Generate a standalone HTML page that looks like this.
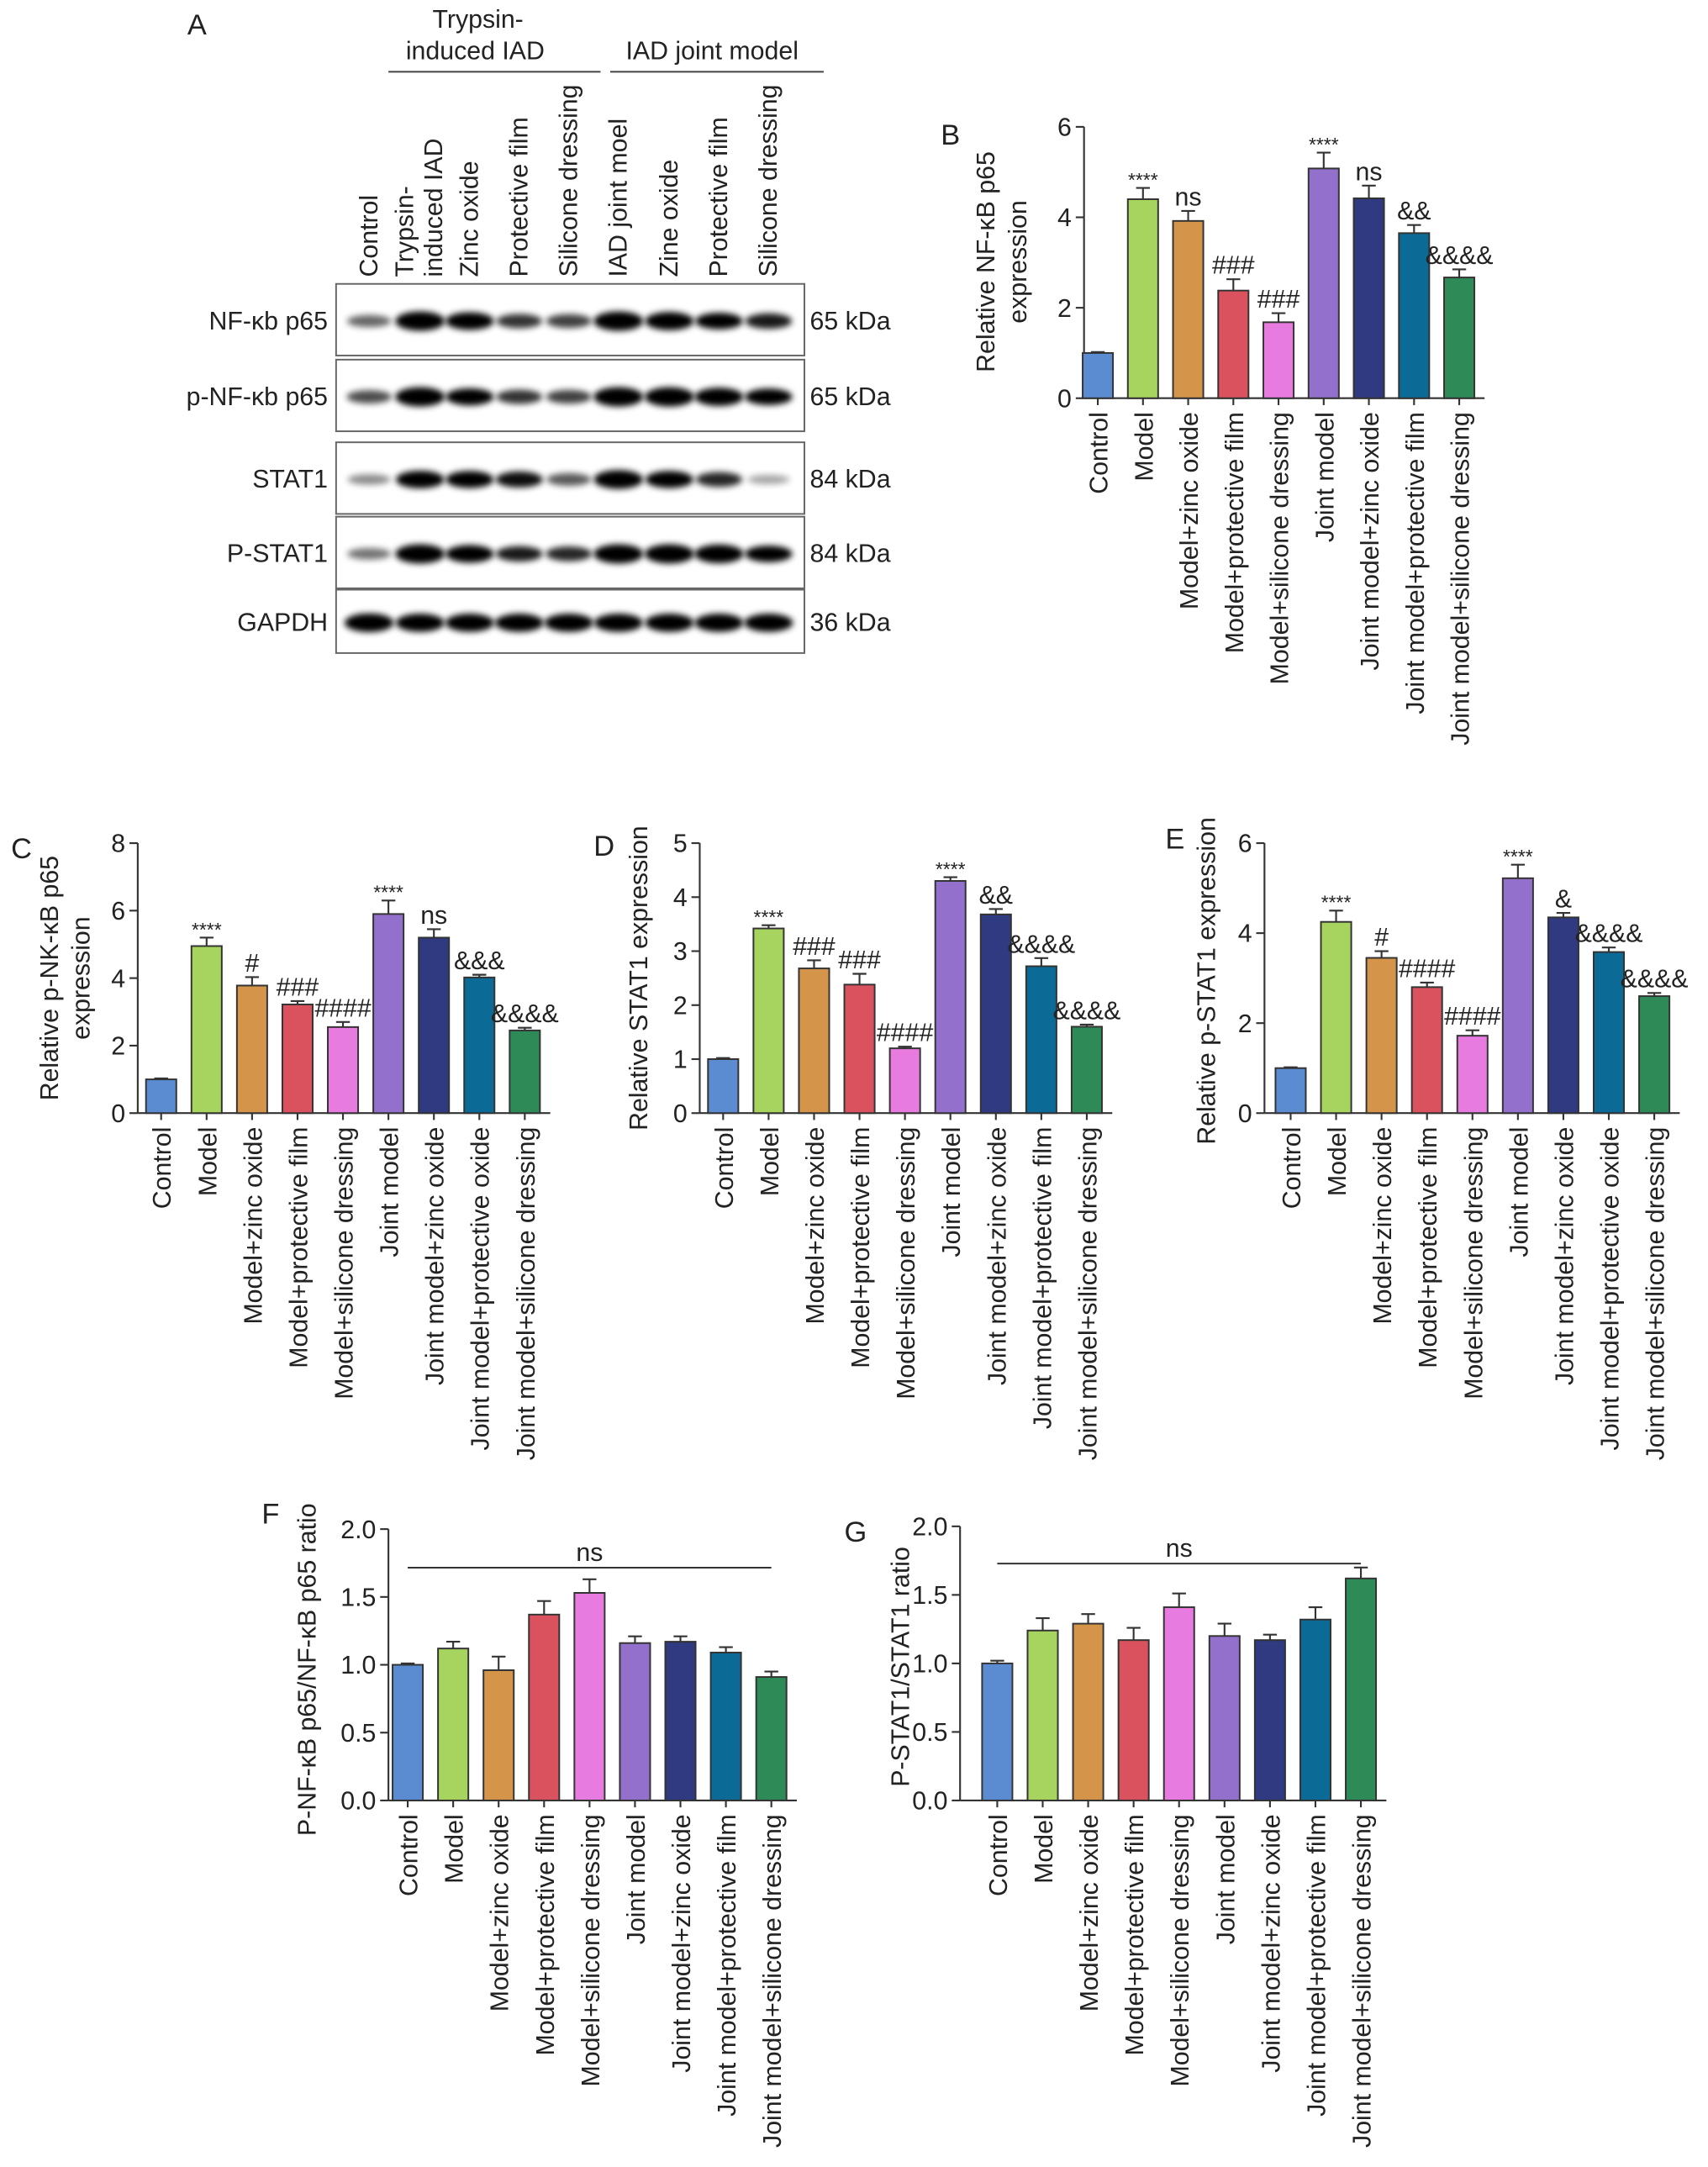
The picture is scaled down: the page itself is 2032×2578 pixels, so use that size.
<!DOCTYPE html>
<html><head><meta charset="utf-8"><style>
html,body{margin:0;padding:0;background:#fff}
svg{display:block}
text{font-family:"Liberation Sans",Arial,sans-serif;fill:#222}
</style></head><body>
<svg id="fig" width="2032" height="2578" viewBox="0 0 1240 1573" xmlns="http://www.w3.org/2000/svg">
<defs><filter id="blur" x="-50%" y="-50%" width="200%" height="200%"><feGaussianBlur stdDeviation="2.2"/></filter></defs>
<g id="blot"></g>
<g id="charts"></g>
</svg>
<script>
const NS='http://www.w3.org/2000/svg';
function mk(tag,attrs,parent,txt){const e=document.createElementNS(NS,tag);for(const k in attrs)e.setAttribute(k,attrs[k]);if(txt!==undefined)e.textContent=txt;parent.appendChild(e);return e;}
const FS=18.5;

// ---------- Panel A data ----------
const blotRows=['NF-κb p65','p-NF-κb p65','STAT1','P-STAT1','GAPDH'];
const blotKda=['65 kDa','65 kDa','84 kDa','84 kDa','36 kDa'];
const bandNF=[0.35,1,0.85,0.55,0.5,1,0.9,0.75,0.65];
const bandPNF=[0.45,1,0.8,0.55,0.5,1,1,0.9,0.75];
const bandSTAT=[0.2,0.85,0.8,0.7,0.4,0.95,0.8,0.6,0.1];
const bandPSTAT=[0.3,1,0.85,0.65,0.6,1,1,0.95,0.75];
const bandGAPDH=[0.95,0.9,0.9,0.9,0.9,0.9,0.9,0.9,0.9];
const laneLabels=['Control','Trypsin-|induced IAD','Zinc oxide','Protective film','Silicone dressing','IAD joint moel','Zine oxide','Protective film','Silicone dressing'];

const A=document.getElementById('blot');
let t=mk('text',{x:136,y:25,'font-size':21},A,'A');

mk('text',{x:347,y:20,'font-size':FS,'text-anchor':'middle'},A,'Trypsin-');
mk('text',{x:345,y:43,'font-size':FS,'text-anchor':'middle'},A,'induced IAD');
mk('text',{x:517,y:43,'font-size':FS,'text-anchor':'middle'},A,'IAD joint model');
mk('line',{x1:282,x2:436,y1:52,y2:52,stroke:'#444','stroke-width':1.2},A);
mk('line',{x1:443,x2:598,y1:52,y2:52,stroke:'#444','stroke-width':1.2},A);
const laneX=[268,305,341,377,413,449,486,522,558];
laneLabels.forEach((l,i)=>{
  const parts=l.split('|');
  parts.forEach((p,j)=>{
    const x=laneX[i]+6-(parts.length-1-j)*21+(parts.length>1?10:0);
    const e=mk('text',{x:0,y:0,'font-size':FS,'text-anchor':'start',transform:`translate(${x},201) rotate(-90)`},A,p);
    
  });
});
const rowsY=[[206,258],[261,313],[321,373],[375,427],[428,474]];
const bands=[bandNF,bandPNF,bandSTAT,bandPSTAT,bandGAPDH];
rowsY.forEach((r,ri)=>{
  const g=mk('g',{},A);
  
  mk('rect',{x:244,y:r[0],width:340,height:r[1]-r[0],fill:'#fff',stroke:'#666','stroke-width':1.2},g);
  const cy=(r[0]+r[1])/2+1;
  bands[ri].forEach((v,i)=>{
    const b=mk('ellipse',{cx:laneX[i],cy:cy,rx:15+3*v,ry:3+4*v,fill:'#000','fill-opacity':Math.min(1,0.25+v),filter:'url(#blur)'},g);
    
  });
  mk('text',{x:238,y:cy+6,'font-size':FS,'text-anchor':'end'},g,blotRows[ri]);
  mk('text',{x:588,y:cy+6,'font-size':FS},g,blotKda[ri]);
});

// ---------- Bar chart data ----------
const categories=['Control','Model','Model+zinc oxide','Model+protective film','Model+silicone dressing','Joint model','Joint model+zinc oxide','Joint model+protective film','Joint model+silicone dressing'];
const categoriesC=['Control','Model','Model+zinc oxide','Model+protective film','Model+silicone dressing','Joint model','Joint model+zinc oxide','Joint model+protective oxide','Joint model+silicone dressing'];
const categoriesE=categoriesC;
const colors=['#5b8bd0','#a6d45e','#d4944a','#d9525e','#e87be0','#9370cc','#2f3a80','#0b6b96','#2e8a57'];

const valuesB=[1.0,4.4,3.92,2.38,1.68,5.08,4.42,3.65,2.67];
const errorsB=[0.02,0.25,0.22,0.25,0.2,0.35,0.28,0.18,0.18];
const annotB=['','****','ns','###','###','****','ns','&&','&&&&'];
const ticksB=[0,2,4,6];

const valuesC=[1.0,4.95,3.78,3.22,2.55,5.9,5.2,4.02,2.45];
const errorsC=[0.03,0.25,0.25,0.1,0.15,0.4,0.25,0.08,0.08];
const annotC=['','****','#','###','####','****','ns','&&&','&&&&'];
const ticksC=[0,2,4,6,8];

const valuesD=[1.0,3.42,2.68,2.38,1.2,4.3,3.68,2.72,1.6];
const errorsD=[0.02,0.06,0.15,0.2,0.03,0.07,0.1,0.15,0.04];
const annotD=['','****','###','###','####','****','&&','&&&&','&&&&'];
const ticksD=[0,1,2,3,4,5];

const valuesE=[1.0,4.25,3.45,2.8,1.72,5.22,4.35,3.58,2.6];
const errorsE=[0.02,0.25,0.15,0.1,0.12,0.3,0.1,0.1,0.07];
const annotE=['','****','#','####','####','****','&','&&&&','&&&&'];
const ticksE=[0,2,4,6];

const valuesF=[1.0,1.12,0.96,1.37,1.53,1.16,1.17,1.09,0.91];
const errorsF=[0.01,0.05,0.1,0.1,0.1,0.05,0.04,0.04,0.04];
const ticksF=['0.0','0.5','1.0','1.5','2.0'];

const valuesG=[1.0,1.24,1.29,1.17,1.41,1.2,1.17,1.32,1.62];
const errorsG=[0.02,0.09,0.07,0.09,0.1,0.09,0.04,0.09,0.08];
const ticksG=['0.0','0.5','1.0','1.5','2.0'];

function chart(o){
  const root=document.getElementById('charts');
  const g=mk('g',{},root);
  
  const ymax=+o.ticks[o.ticks.length-1];
  const y=v=>o.y0-(v/ymax)*(o.y0-o.yTop);
  const x=i=>o.x0+o.first+i*o.step;
  const lab=mk('text',{x:o.letter[0],y:o.letter[1],'font-size':21},g,o.letterText);
  
  const ya=mk('line',{x1:o.x0,x2:o.x0,y1:o.yTop,y2:o.y0,stroke:'#333','stroke-width':1.3},g);
  
  const xEnd=x(o.values.length-1)+o.step/2+2;
  const xa=mk('line',{x1:o.x0,x2:xEnd,y1:o.y0,y2:o.y0,stroke:'#333','stroke-width':1.3},g);
  
  o.ticks.forEach(tk=>{
    const ty=y(+tk);
    mk('line',{x1:o.x0-6,x2:o.x0,y1:ty,y2:ty,stroke:'#333','stroke-width':1.3},g);
    const tl=mk('text',{x:o.x0-9,y:ty+6.5,'font-size':FS,'text-anchor':'end'},g,tk);
    
  });
  o.values.forEach((v,i)=>{
    const cx=x(i),w=o.bw;
    const r=mk('rect',{x:cx-w/2,y:y(v),width:w,height:o.y0-y(v),fill:colors[i],stroke:'#333','stroke-width':1.2},g);
    
    const ey=y(v+o.errors[i]);
    mk('line',{x1:cx,x2:cx,y1:y(v),y2:ey,stroke:'#333','stroke-width':1.3},g);
    mk('line',{x1:cx-5,x2:cx+5,y1:ey,y2:ey,stroke:'#333','stroke-width':1.3},g);
    mk('line',{x1:cx,x2:cx,y1:o.y0,y2:o.y0+5,stroke:'#333','stroke-width':1.3},g);
    if(o.annot&&o.annot[i]){
      const st=o.annot[i].startsWith('*');
      const a=mk('text',{x:cx,y:ey-(st?1:4),'font-size':st?14:FS,'text-anchor':'middle'},g,o.annot[i]);
      
    }
    const xl=mk('text',{x:0,y:0,'font-size':FS,'text-anchor':'end',transform:`translate(${cx+7},${o.y0+10}) rotate(-90)`},g,o.cats[i]);
    
  });
  o.title.forEach((tt,j)=>{
    const tx=o.titleX+j*23;
    const yt=mk('text',{x:0,y:0,'font-size':FS,'text-anchor':'middle',transform:`translate(${tx},${o.titleY}) rotate(-90)`},g,tt);
    
  });
  if(o.ns){
    mk('line',{x1:x(0),x2:x(8),y1:o.ns,y2:o.ns,stroke:'#333','stroke-width':1.2},g);
    const n=mk('text',{x:(x(0)+x(8))/2,y:o.ns-5,'font-size':FS,'text-anchor':'middle'},g,'ns');
    
  }
}
chart({name:'chart-b-nfkb',letterText:'B',letter:[683,105],x0:787,y0:289,yTop:92,first:10,step:32.8,bw:22,values:valuesB,errors:errorsB,annot:annotB,ticks:ticksB,cats:categories,title:['Relative NF-κB p65','expression'],titleX:722,titleY:190});
chart({name:'chart-c-p-nfkb',letterText:'C',letter:[8,623],x0:100,y0:808,yTop:612,first:17,step:33,bw:22,values:valuesC,errors:errorsC,annot:annotC,ticks:ticksC,cats:categoriesC,title:['Relative p-NK-κB p65','expression'],titleX:42,titleY:710});
chart({name:'chart-d-stat1',letterText:'D',letter:[431,621],x0:508,y0:808,yTop:612,first:17,step:33,bw:22,values:valuesD,errors:errorsD,annot:annotD,ticks:ticksD,cats:categories,title:['Relative STAT1 expression'],titleX:470,titleY:710});
chart({name:'chart-e-p-stat1',letterText:'E',letter:[846,616],x0:918,y0:808,yTop:612,first:19,step:33,bw:22,values:valuesE,errors:errorsE,annot:annotE,ticks:ticksE,cats:categoriesE,title:['Relative p-STAT1 expression'],titleX:882,titleY:712});
chart({name:'chart-f-nfkb-ratio',letterText:'F',letter:[190,1106],x0:282,y0:1307,yTop:1110,first:14,step:33,bw:22,values:valuesF,errors:errorsF,ticks:ticksF,cats:categories,title:['P-NF-κB p65/NF-κB p65 ratio'],titleX:229,titleY:1212,ns:1138});
chart({name:'chart-g-stat1-ratio',letterText:'G',letter:[613,1119],x0:697,y0:1307,yTop:1108,first:27,step:33,bw:22,values:valuesG,errors:errorsG,ticks:ticksG,cats:categories,title:['P-STAT1/STAT1 ratio'],titleX:660,titleY:1210,ns:1135});
</script>
</body></html>
